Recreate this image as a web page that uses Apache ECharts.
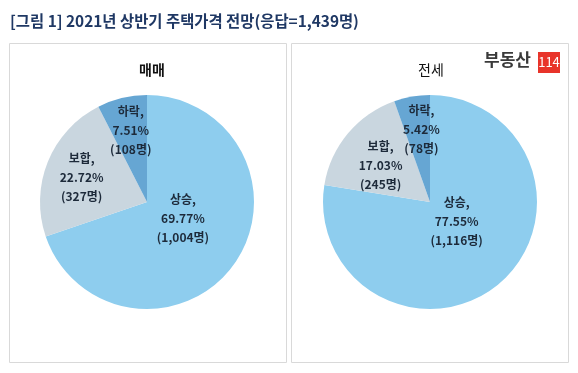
<!DOCTYPE html>
<html><head><meta charset="utf-8">
<script src="https://cdn.jsdelivr.net/npm/echarts@6/dist/echarts.min.js"></script>
<style>html,body{margin:0;padding:0;background:#fff}#c{width:578px;height:373px}</style>
</head><body><div id="c"></div>
<script>
const categories = ['상승', '보합', '하락'];
const saleShares = [69.77, 22.72, 7.51];
const saleCounts = ['1,004', '327', '108'];
const leaseShares = [77.55, 17.03, 5.42];
const leaseCounts = ['1,116', '245', '78'];
const panelTitles = ['매매', '전세'];
const mainTitle = '[그림 1] 2021년 상반기 주택가격 전망(응답=1,439명)';

const colors = ['#8ecdee', '#c9d6df', '#66a6d3'];
const font = '"Noto Sans CJK KR", sans-serif';
const saleOffsets = [[-10, -16], [-13, -3], [-3, -17]];
const leaseOffsets = [[-10, -24], [-6, 0], [1, -17]];

function makeData(shares, counts, offsets) {
  return categories.map((c, i) => ({
    name: c, value: shares[i], count: counts[i],
    itemStyle: { color: colors[i] },
    label: { offset: offsets[i] }
  }));
}

const labelCfg = {
  show: true, position: 'inside',
  formatter: p => p.name + ',\n' + p.value.toFixed(2) + '%\n(' + p.data.count + '명)',
  color: '#1d2a3a', fontSize: 12, fontWeight: 'bold', fontFamily: font, lineHeight: 19
};

const chart = echarts.init(document.getElementById('c'), null, { renderer: 'canvas' });
chart.setOption({
  animation: false,
  title: [
    { text: panelTitles[0], left: 147, top: 58, textAlign: 'center',
      textStyle: { fontSize: 14, fontWeight: 'bold', color: '#111', fontFamily: font } },
    { text: panelTitles[1], left: 426, top: 58, textAlign: 'center',
      textStyle: { fontSize: 14, fontWeight: 'normal', color: '#111', fontFamily: font } }
  ],
  graphic: [
    { type: 'text', left: 10, top: 13,
      style: { text: mainTitle, font: 'bold 15.4px ' + font, fill: '#1f3864' } },
    { type: 'rect', shape: { x: 9.5, y: 43.5, width: 277, height: 319 },
      style: { fill: 'none', stroke: '#d9d9d9', lineWidth: 1 } },
    { type: 'rect', shape: { x: 291.5, y: 43.5, width: 277, height: 319 },
      style: { fill: 'none', stroke: '#d9d9d9', lineWidth: 1 } },
    { type: 'text', left: 484, top: 51,
      style: { text: '부동산', font: 'bold 17px ' + font, fill: '#3a3a3a' } },
    { type: 'rect', shape: { x: 538, y: 52, width: 22, height: 21 }, style: { fill: '#e8342a' } },
    { type: 'text', x: 549, y: 62.5,
      style: { text: '114', font: '13px ' + font, fill: '#fff', align: 'center', verticalAlign: 'middle' } }
  ],
  series: [
    { type: 'pie', center: [147, 202], radius: [0, 107], startAngle: 90, clockwise: true,
      data: makeData(saleShares, saleCounts, saleOffsets), label: labelCfg, labelLine: { show: false },
      emphasis: { disabled: true } },
    { type: 'pie', center: [430, 202], radius: [0, 107], startAngle: 90, clockwise: true,
      data: makeData(leaseShares, leaseCounts, leaseOffsets), label: labelCfg, labelLine: { show: false },
      emphasis: { disabled: true } }
  ]
});
</script></body></html>
